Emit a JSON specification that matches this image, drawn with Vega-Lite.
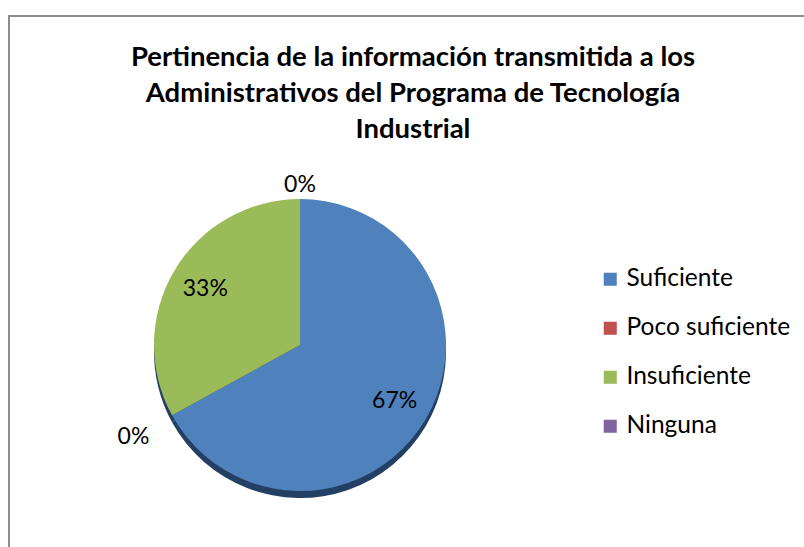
{
  "$schema": "https://vega.github.io/schema/vega-lite/v6.json",
  "width": 800,
  "height": 540,
  "autosize": {"type": "none"},
  "padding": {"left": 9, "top": 16, "right": 0, "bottom": 0},
  "background": "white",
  "view": {"stroke": "#8c8c8c", "strokeWidth": 2},
  "config": {
    "view": {"stroke": "#8c8c8c", "strokeWidth": 2},
    "font": "Lato"
  },
  "title": {
    "text": ["Pertinencia de la información transmitida a los", "Administrativos del Programa de Tecnología", "Industrial"],
    "font": "Lato",
    "fontSize": 27.5,
    "fontWeight": "bold",
    "color": "#000000",
    "lineHeight": 36,
    "anchor": "middle",
    "baseline": "top",
    "dy": 131,
    "dx": 4,
    "limit": 900
  },
  "data": {
    "values": [
      {"idx": 1, "category": "Suficiente", "value": 0.67},
      {"idx": 2, "category": "Poco suficiente", "value": 0},
      {"idx": 3, "category": "Insuficiente", "value": 0.33},
      {"idx": 4, "category": "Ninguna", "value": 0}
    ]
  },
  "encoding": {
    "theta": {"field": "value", "type": "quantitative", "stack": true},
    "order": {"field": "idx", "type": "quantitative"}
  },
  "layer": [
    {
      "mark": {"type": "arc", "outerRadius": 146, "xOffset": -109, "yOffset": 66, "color": "#233F63"}
    },
    {
      "mark": {"type": "arc", "outerRadius": 146, "xOffset": -109, "yOffset": 59},
      "encoding": {
        "color": {
          "field": "category",
          "type": "nominal",
          "scale": {
            "domain": ["Suficiente", "Poco suficiente", "Insuficiente", "Ninguna"],
            "range": ["#4F81BD", "#C0504D", "#9BBB59", "#8064A2"]
          },
          "legend": {
            "title": null,
            "orient": "none",
            "legendX": 589,
            "legendY": 251,
            "symbolType": "square",
            "symbolSize": 170,
            "symbolStrokeWidth": 0,
            "labelFont": "Lato",
            "labelFontSize": 24.5,
            "labelColor": "#000000",
            "labelOffset": 4,
            "labelLimit": 300,
            "rowPadding": 24,
            "padding": 0
          }
        }
      }
    },
    {
      "mark": {
        "type": "text",
        "xOffset": -109,
        "yOffset": 59,
        "radius": {"expr": "datum.value > 0 ? 110 : (datum.idx == 2 ? 190 : 160)"},
        "font": "Lato",
        "fontSize": 23,
        "color": "#000000"
      },
      "encoding": {
        "text": {"field": "value", "type": "quantitative", "format": ".0%"}
      }
    }
  ]
}
